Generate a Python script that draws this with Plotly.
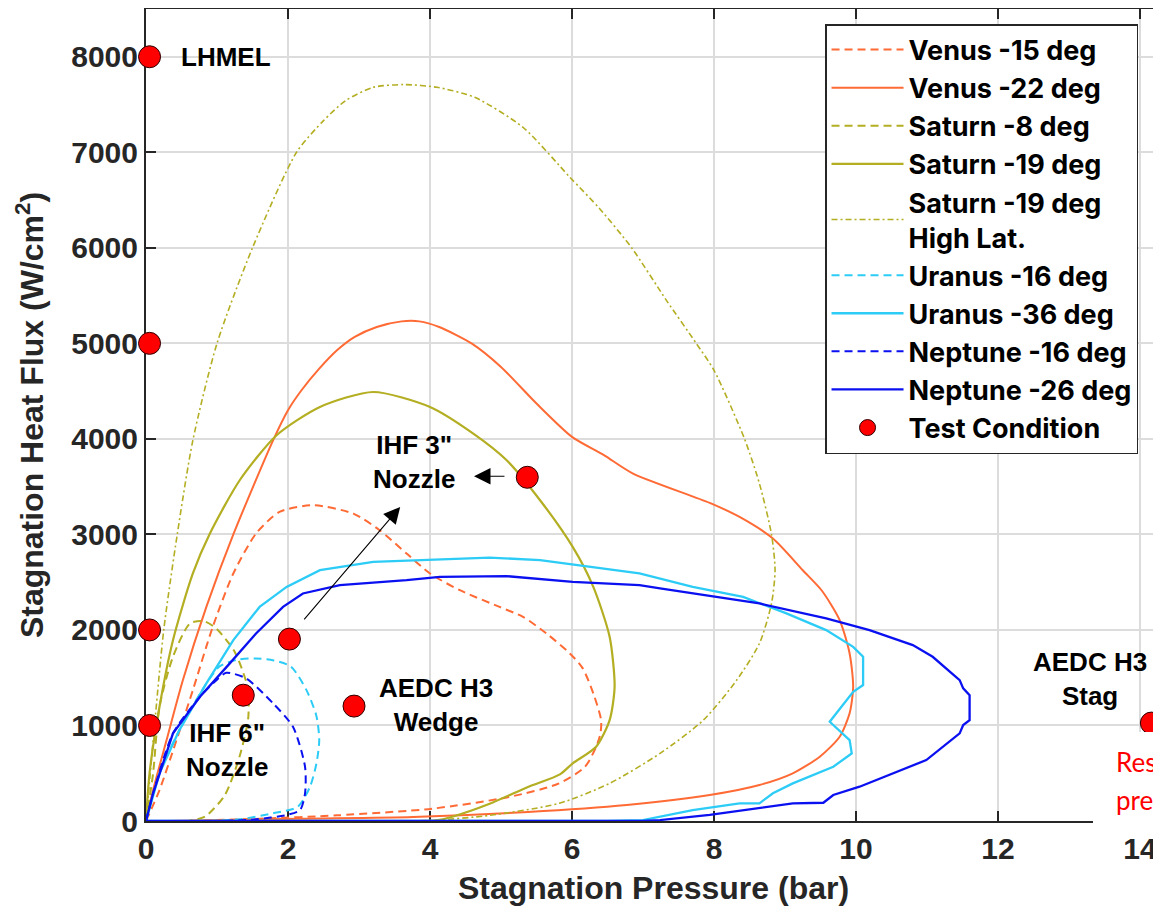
import plotly.graph_objects as go

# ---------------- data ----------------
venus15_x = [0, 0.19, 0.43, 0.66, 0.94, 1.23, 1.55, 1.88, 2.35, 2.92, 3.29, 3.67, 4.0, 4.42, 4.98, 5.31, 5.64, 5.97, 6.15, 6.30, 6.41, 6.40, 6.34, 6.18, 5.81, 5.11, 4.03, 2.69, 1.61, 0.5]
venus15_y = [0, 324, 847, 1370, 2032, 2591, 3009, 3235, 3305, 3218, 3044, 2800, 2591, 2416, 2241, 2137, 1963, 1754, 1600, 1336, 1056, 914, 777, 565, 391, 251, 129, 59, 24, 0]

venus22_x = [0, 0.10, 0.29, 0.52, 0.85, 1.23, 1.79, 2.0, 2.19, 2.44, 2.69, 2.94, 3.25, 3.6, 3.85, 4.13, 4.59, 5.0, 5.5, 6.0, 6.45, 6.86, 7.94, 8.36, 8.83, 9.25, 9.52, 9.77, 9.91, 9.96, 9.91, 9.77, 9.49, 9.11, 8.64, 7.94, 6.77, 5.38, 3.76, 2.15, 0.3]
venus22_y = [0, 324, 847, 1475, 2241, 3000, 3985, 4300, 4509, 4735, 4927, 5067, 5171, 5230, 5230, 5171, 4997, 4753, 4370, 4021, 3830, 3637, 3330, 3183, 2957, 2625, 2410, 2103, 1754, 1405, 1127, 882, 673, 499, 377, 272, 167, 94, 42, 24, 0]

saturn8_x = [0, 0.10, 0.19, 0.38, 0.62, 0.82, 0.99, 1.25, 1.43, 1.44, 1.32, 1.11, 0.83, 0.6]
saturn8_y = [0, 499, 1196, 1719, 2068, 2090, 2015, 1770, 1400, 1080, 680, 270, 45, 0]

saturn19_x = [0, 0.05, 0.19, 0.38, 0.66, 0.9, 1.32, 1.84, 2.45, 3.2, 4.0, 4.61, 5.08, 5.55, 6.01, 6.30, 6.53, 6.60, 6.53, 6.34, 6.01, 5.83, 5.38, 4.84, 4.30, 4.09, 3.5]
saturn19_y = [0, 500, 1196, 1893, 2591, 3009, 3567, 4038, 4334, 4491, 4334, 4055, 3776, 3358, 2869, 2451, 1928, 1405, 1056, 777, 603, 488, 356, 181, 42, 7, 0]

saturnHL_x = [0, 0.12, 0.25, 0.44, 0.66, 1.0, 1.5, 2.12, 2.5, 2.81, 3.2, 3.63, 4.1, 4.63, 5.31, 5.97, 6.39, 6.84, 7.33, 7.75, 8.0, 8.43, 8.64, 8.81, 8.86, 8.81, 8.64, 8.32, 7.85, 7.24, 6.53, 5.82, 4.84, 4.03, 3.0]
saturnHL_y = [0, 1000, 2000, 3000, 3985, 5000, 6000, 7000, 7331, 7540, 7680, 7709, 7680, 7575, 7261, 6739, 6409, 6000, 5450, 5000, 4718, 4000, 3532, 3000, 2625, 2277, 1859, 1475, 1056, 708, 394, 185, 59, 7, 0]

uranus16_x = [0, 0.19, 0.47, 0.85, 1.04, 1.3, 1.55, 1.8, 2.04, 2.26, 2.40, 2.44, 2.40, 2.31, 2.14, 1.79, 1.32, 0.9]
uranus16_y = [0, 499, 952, 1440, 1621, 1690, 1702, 1680, 1618, 1370, 1100, 847, 600, 359, 150, 80, 18, 0]

uranus36_x = [0, 0.19, 0.47, 0.85, 1.23, 1.60, 1.98, 2.45, 3.20, 4.0, 4.84, 5.55, 6.25, 6.95, 7.70, 8.41, 9.02, 9.58, 9.96, 10.10, 10.10, 9.96, 9.63, 9.91, 9.94, 9.68, 9.11, 8.83, 8.64, 8.36, 7.70, 7.0, 6.5, 0]
uranus36_y = [0, 499, 952, 1440, 1893, 2241, 2451, 2626, 2712, 2737, 2758, 2730, 2660, 2591, 2451, 2346, 2173, 1998, 1823, 1719, 1423, 1353, 1039, 847, 708, 568, 394, 290, 185, 185, 115, 10, 0, 0]

neptune16_x = [0, 0.10, 0.38, 0.76, 1.0, 1.13, 1.41, 1.79, 2.07, 2.24, 2.24, 2.17, 1.98, 1.55, 1.1]
neptune16_y = [0, 290, 917, 1300, 1480, 1551, 1493, 1231, 986, 568, 290, 115, 63, 18, 0]

neptune26_x = [0, 0.10, 0.38, 0.76, 1.18, 1.55, 1.93, 2.21, 2.73, 3.67, 4.14, 5.08, 6.01, 6.95, 7.24, 8.64, 9.58, 10.19, 10.80, 11.08, 11.46, 11.51, 11.60, 11.60, 11.51, 11.46, 10.99, 10.52, 10.05, 9.68, 9.54, 9.11, 8.64, 7.94, 7.24, 7.0, 0]
neptune26_y = [0, 290, 917, 1300, 1650, 1963, 2241, 2382, 2469, 2521, 2556, 2563, 2503, 2469, 2434, 2277, 2120, 1998, 1841, 1719, 1475, 1388, 1318, 1056, 1004, 917, 638, 499, 359, 272, 191, 185, 133, 63, 10, 0, 0]

test_x = [0.05, 0.05, 0.05, 0.05, 1.37, 2.02, 2.93, 5.37, 14.16]
test_y = [8000, 5000, 2000, 1000, 1317, 1904, 1203, 3598, 1025]

x_ticks = [0, 2, 4, 6, 8, 10, 12, 14]
y_ticks = [0, 1000, 2000, 3000, 4000, 5000, 6000, 7000, 8000]

# ---------------- styles ----------------
ORANGE = "#FF6A35"
OLIVE = "#B3AE22"
CYAN = "#2CCCF6"
BLUE = "#0A10F0"
AX = "#262626"
FONT = "Liberation Sans"

fig = go.Figure()

def add_line(x, y, name, color, dash, width, shape="spline"):
    fig.add_trace(go.Scatter(x=x, y=y, name=name, mode="lines",
                             line=dict(color=color, dash=dash, width=width,
                                       shape=shape, smoothing=0.7),
                             cliponaxis=False))

add_line(venus15_x, venus15_y, "Venus -15 deg", ORANGE, "8px,5px", 2)
add_line(venus22_x, venus22_y, "Venus -22 deg", ORANGE, "solid", 2)
add_line(saturn8_x, saturn8_y, "Saturn -8 deg", OLIVE, "8px,5px", 2)
add_line(saturn19_x, saturn19_y, "Saturn -19 deg", OLIVE, "solid", 2.2)
add_line(saturnHL_x, saturnHL_y, "Saturn -19 deg<br>High Lat.", OLIVE, "6px,3px,2px,3px", 1.6)
add_line(uranus16_x, uranus16_y, "Uranus -16 deg", CYAN, "8px,5px", 2)
add_line(uranus36_x, uranus36_y, "Uranus -36 deg", CYAN, "solid", 2.3, "linear")
add_line(neptune16_x, neptune16_y, "Neptune -16 deg", BLUE, "8px,5px", 2)
add_line(neptune26_x, neptune26_y, "Neptune -26 deg", BLUE, "solid", 2.3, "linear")

fig.add_trace(go.Scatter(x=test_x, y=test_y, name="Test Condition", mode="markers",
                         marker=dict(color="#FF0000", size=22,
                                     line=dict(color="#2a0000", width=1)),
                         cliponaxis=False))

tickfont = dict(family=FONT, size=30, color=AX, weight="bold")

fig.update_xaxes(range=[0, 1015 / 71], tickvals=x_ticks, ticktext=[str(v) for v in x_ticks],
                 showgrid=True, gridcolor="#dcdcdc", gridwidth=1.6,
                 showline=True, linecolor=AX, linewidth=2, mirror="ticks",
                 ticks="inside", ticklen=10, tickwidth=2, tickcolor=AX,
                 tickfont=tickfont, zeroline=False, layer="below traces",
                 title=dict(text="Stagnation Pressure (bar)",
                            font=dict(family=FONT, size=32, color=AX, weight="bold"),
                            standoff=15))
fig.update_yaxes(range=[0, 8500], tickvals=y_ticks, ticktext=[str(v) for v in y_ticks],
                 showgrid=True, gridcolor="#dcdcdc", gridwidth=1.6,
                 showline=True, linecolor=AX, linewidth=2, mirror=False,
                 ticks="inside", ticklen=10, tickwidth=2, tickcolor=AX,
                 tickfont=tickfont, zeroline=False, layer="below traces",
                 title=dict(text="Stagnation Heat Flux (W/cm<sup>2</sup>)",
                            font=dict(family=FONT, size=32, color=AX, weight="bold"),
                            standoff=18))

annot_font = dict(family=FONT, size=26, color="black", weight="bold")
annotations = [
    dict(x=0.47, y=8000, text="LHMEL", xanchor="left"),
    dict(x=3.77, y=3755, text="IHF 3\"<br>Nozzle"),
    dict(x=1.14, y=743, text="IHF 6\"<br>Nozzle"),
    dict(x=4.08, y=1213, text="AEDC H3<br>Wedge"),
    dict(x=13.29, y=1485, text="AEDC H3<br>Stag"),
]
for a in annotations:
    fig.add_annotation(x=a["x"], y=a["y"], text=a["text"], showarrow=False,
                       xanchor=a.get("xanchor", "center"), yanchor="middle",
                       font=annot_font, align="center")

# arrows
fig.add_annotation(x=3.58, y=3288, ax=2.21, ay=2095, axref="x", ayref="y", text="",
                   showarrow=True, arrowhead=2, arrowsize=3, arrowwidth=1.1,
                   arrowcolor="black", standoff=0, startstandoff=0)
fig.add_annotation(x=4.62, y=3609, ax=5.07, ay=3609, axref="x", ayref="y", text="",
                   showarrow=True, arrowhead=2, arrowsize=3, arrowwidth=1.1,
                   arrowcolor="black", standoff=0, startstandoff=0)

# white overlay box (cropped slide element) with red text
fig.add_shape(type="rect", xref="paper", yref="paper", x0=0.933, x1=1.05,
              y0=-0.0086, y1=0.1096, fillcolor="white", line=dict(width=0), layer="above")
red_font = dict(family="Lato", size=26, color="#FF0000")
fig.add_annotation(xref="paper", yref="paper", x=0.9537, y=0.0727, text="Response",
                   showarrow=False, xanchor="left", yanchor="middle", font=red_font)
fig.add_annotation(xref="paper", yref="paper", x=0.9537, y=0.0259, text="prediction",
                   showarrow=False, xanchor="left", yanchor="middle", font=red_font)

# page body has an 8px margin, so the figure is offset by 8px
fig.update_layout(
    width=1153, height=898,
    margin=dict(l=138, r=0, t=1, b=85),
    plot_bgcolor="white", paper_bgcolor="white",
    font=dict(family=FONT, color=AX),
    showlegend=True,
    legend=dict(x=0.669, y=0.9815, xanchor="left", yanchor="top",
                font=dict(family="Inter", size=27, color="black", weight="bold"),
                bgcolor="white", bordercolor=AX, borderwidth=1.5,
                itemwidth=72, tracegroupgap=0, valign="middle"),
)

fig.write_html("out.html")
